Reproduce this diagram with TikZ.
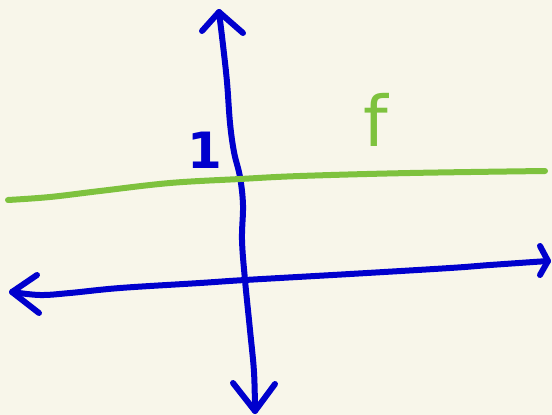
\documentclass[tikz,border=0pt]{standalone}
\usepackage{fontspec}
\setmainfont{DejaVu Sans}
\definecolor{paper}{RGB}{248,246,234}
\definecolor{penblue}{RGB}{0,0,205}
\definecolor{pengreen}{RGB}{126,194,62}
\begin{document}
\begin{tikzpicture}[
    x=1pt, y=-1pt,
    axis/.style={draw=penblue, line width=6pt, line cap=round, line join=round},
    fline/.style={draw=pengreen, line width=6pt, line cap=round, line join=round},
    lbl/.style={font=\fontsize{50}{50}\selectfont\bfseries, inner sep=0pt}
]

% Papier
\fill[paper] (0,0) rectangle (552,415);
\useasboundingbox (0,0) rectangle (552,415);

% Enden der Achsen
\coordinate (ytop) at (219,12);
\coordinate (ybot) at (255,411);
\coordinate (xleft) at (12,292);
\coordinate (xright) at (548,261);

% y-Achse
\draw[axis] plot[smooth, tension=0.6] coordinates {(219,12) (223,45) (227,82) (230,123) (234,152) (240,177) (243,205) (242,240) (245,280) (250,330) (254,372) (255,411)};
\draw[axis] (202,31) -- (ytop) -- (243,33);
\draw[axis] (233,383) -- (ybot) -- (275,384);

% x-Achse
\draw[axis] plot[smooth, tension=0.6] coordinates {(12,292) (40,295) (70,293) (120,288) (200,283) (245,280) (350,274) (450,268) (490,265) (548,261)};
\draw[axis] (37,275) -- (xleft) -- (39,313);
\draw[axis] (540,246) -- (xright) -- (540,275);

% Funktion f = 1
\draw[fline] plot[smooth, tension=0.6] coordinates {(8,200) (50,197) (100,191) (170,183) (240,179) (300,176) (410,173) (545,171)};

% Beschriftungen
\node[lbl, text=penblue] (one) at (205,150) {1};
\node[lbl, text=pengreen, font=\fontsize{70}{70}\selectfont] (fname) at (376,120) {f};

\end{tikzpicture}
\end{document}
